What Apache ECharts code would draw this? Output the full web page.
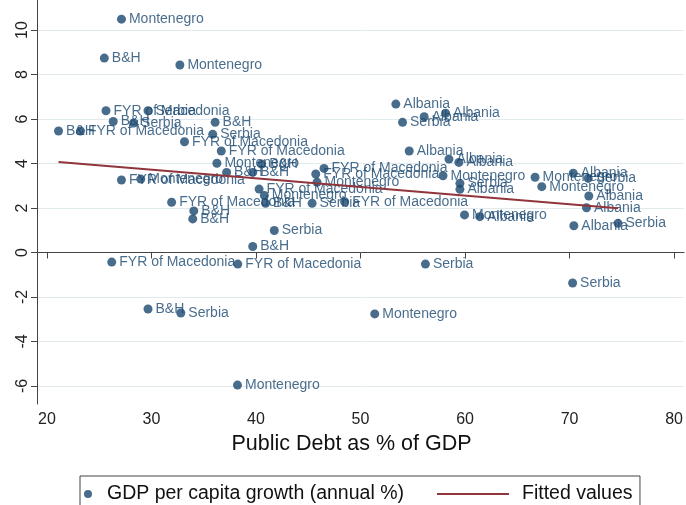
<!DOCTYPE html>
<html>
<head>
<meta charset="utf-8">
<title>Public debt and GDP per capita growth</title>
<script src="https://cdn.jsdelivr.net/npm/echarts@6/dist/echarts.min.js"></script>
<style>
  html, body { margin: 0; padding: 0; background: #ffffff; }
  #chart { width: 686px; height: 505px; }
</style>
</head>
<body>
<div id="chart"></div>
<script>
// Public debt (% of GDP) against GDP per capita growth, one point per country-year
var country = [
  'Montenegro', 'B&H', 'Montenegro', 'FYR of Macedonia', 'Serbia',
  'B&H', 'Serbia', 'B&H', 'FYR of Macedonia', 'B&H',
  'Serbia', 'FYR of Macedonia', 'FYR of Macedonia', 'Montenegro', 'B&H',
  'B&H', 'B&H', 'FYR of Macedonia', 'Montenegro', 'FYR of Macedonia',
  'B&H', 'B&H', 'FYR of Macedonia', 'FYR of Macedonia', 'Montenegro',
  'FYR of Macedonia', 'Montenegro', 'B&H', 'Serbia', 'FYR of Macedonia',
  'Serbia', 'B&H', 'FYR of Macedonia', 'FYR of Macedonia', 'Serbia',
  'Serbia', 'B&H', 'Serbia', 'Montenegro', 'Montenegro',
  'Albania', 'Albania', 'Albania', 'Serbia', 'Albania',
  'Albania', 'Albania', 'Montenegro', 'Serbia', 'Albania',
  'Montenegro', 'Albania', 'Montenegro', 'Montenegro', 'Albania',
  'Serbia', 'Albania', 'Albania', 'Albania', 'Serbia'
];
var debt = [
  27.13, 25.49, 32.72, 25.65, 29.67,
  26.34, 28.29, 21.11, 23.21, 36.09,
  35.86, 33.16, 36.68, 36.26, 37.19,
  39.69, 40.54, 27.13, 28.98, 31.93,
  34.05, 33.95, 46.51, 45.72, 45.84,
  40.30, 40.80, 40.92, 45.37, 48.48,
  41.75, 39.69, 26.20, 38.26, 56.21,
  70.29, 29.67, 32.81, 51.36, 38.23,
  53.38, 56.09, 58.14, 54.02, 54.66,
  58.46, 59.41, 57.89, 59.51, 59.51,
  59.95, 61.41, 66.70, 67.34, 70.35,
  71.78, 71.84, 71.62, 70.41, 74.63
];
var growth = [
  10.49, 8.74, 8.43, 6.37, 6.37,
  5.89, 5.82, 5.46, 5.46, 5.85,
  5.31, 4.98, 4.56, 4.01, 3.60,
  3.60, 3.98, 3.26, 3.30, 2.26,
  1.87, 1.51, 3.78, 3.53, 3.16,
  2.85, 2.56, 2.21, 2.21, 2.28,
  0.99, 0.27, -0.43, -0.52, -0.52,
  -1.37, -2.54, -2.72, -2.76, -5.96,
  6.67, 6.10, 6.26, 5.85, 4.56,
  4.20, 4.05, 3.45, 3.11, 2.84,
  1.69, 1.61, 3.38, 2.96, 3.56,
  3.33, 2.54, 2.01, 1.20, 1.31
];

// Linear fit, evaluated at the lowest and highest debt level
var fitDebt = [21.11, 74.63];
var fitGrowth = [4.07, 1.99];

var xTicks = [20, 30, 40, 50, 60, 70, 80];
var yTicks = [-6, -4, -2, 0, 2, 4, 6, 8, 10];

var navy = '#1a476f';
var maroon = '#90353b';
var font = 'Liberation Sans, Arial, Helvetica, sans-serif';

var points = debt.map(function (d, i) {
  return { name: country[i], value: [d, growth[i]] };
});
var fitted = fitDebt.map(function (d, i) { return [d, fitGrowth[i]]; });

var chart = echarts.init(document.getElementById('chart'), null, { renderer: 'canvas' });

chart.setOption({
  animation: false,
  backgroundColor: '#ffffff',
  textStyle: { fontFamily: font },
  grid: { left: 37, right: -2, top: 0, bottom: 101, containLabel: false },
  xAxis: {
    type: 'value',
    min: 19.05,
    max: 80.95,
    name: 'Public Debt as % of GDP',
    nameLocation: 'middle',
    nameGap: 28,
    nameTextStyle: { fontSize: 21.5, color: '#111', fontFamily: font, padding: [0, 18, 0, 0] },
    axisLine: { show: true, lineStyle: { color: '#444', width: 1 } },
    axisTick: { show: true, length: 6, customValues: xTicks, lineStyle: { color: '#444' } },
    axisLabel: { customValues: xTicks, fontSize: 16, color: '#222', margin: 8, fontFamily: font },
    splitLine: { show: false }
  },
  yAxis: {
    type: 'value',
    min: -6.81,
    max: 11.35,
    axisLine: { show: true, lineStyle: { color: '#444', width: 1 } },
    axisTick: { show: true, length: 6, customValues: yTicks, lineStyle: { color: '#444' } },
    axisLabel: { customValues: yTicks, fontSize: 16, color: '#222', rotate: 90, margin: 6, fontFamily: font },
    splitLine: { show: true, lineStyle: { color: '#e1eaec', width: 1 } }
  },
  legend: [
    {
      data: [{ name: 'GDP per capita growth (annual %)', icon: 'circle' }],
      left: 80,
      top: 476,
      orient: 'horizontal',
      itemWidth: 8,
      itemHeight: 8,
      padding: [8, 236, 14, 4],
      borderColor: '#444',
      borderWidth: 1,
      selectedMode: false,
      textStyle: { fontSize: 19.5, color: '#111', fontFamily: font, padding: [0, 0, 0, 10] }
    },
    {
      data: [{ name: 'Fitted values', icon: 'rect' }],
      left: 437,
      top: 484,
      padding: 0,
      itemWidth: 72,
      itemHeight: 2,
      selectedMode: false,
      itemStyle: { color: maroon },
      textStyle: { fontSize: 19.5, color: '#111', fontFamily: font, padding: [0, 0, 0, 8] }
    }
  ],
  series: [
    {
      name: 'GDP per capita growth (annual %)',
      type: 'scatter',
      symbol: 'circle',
      symbolSize: 9,
      itemStyle: { color: navy },
      data: points,
      z: 2,
      label: {
        show: true,
        position: 'right',
        distance: 3,
        formatter: '{b}',
        color: navy,
        fontSize: 14,
        fontFamily: font
      }
    },
    {
      name: 'Fitted values',
      type: 'line',
      data: fitted,
      symbol: 'none',
      showSymbol: false,
      z: 5,
      itemStyle: { color: maroon },
      lineStyle: { color: maroon, width: 2 }
    }
  ]
});
</script>
</body>
</html>
